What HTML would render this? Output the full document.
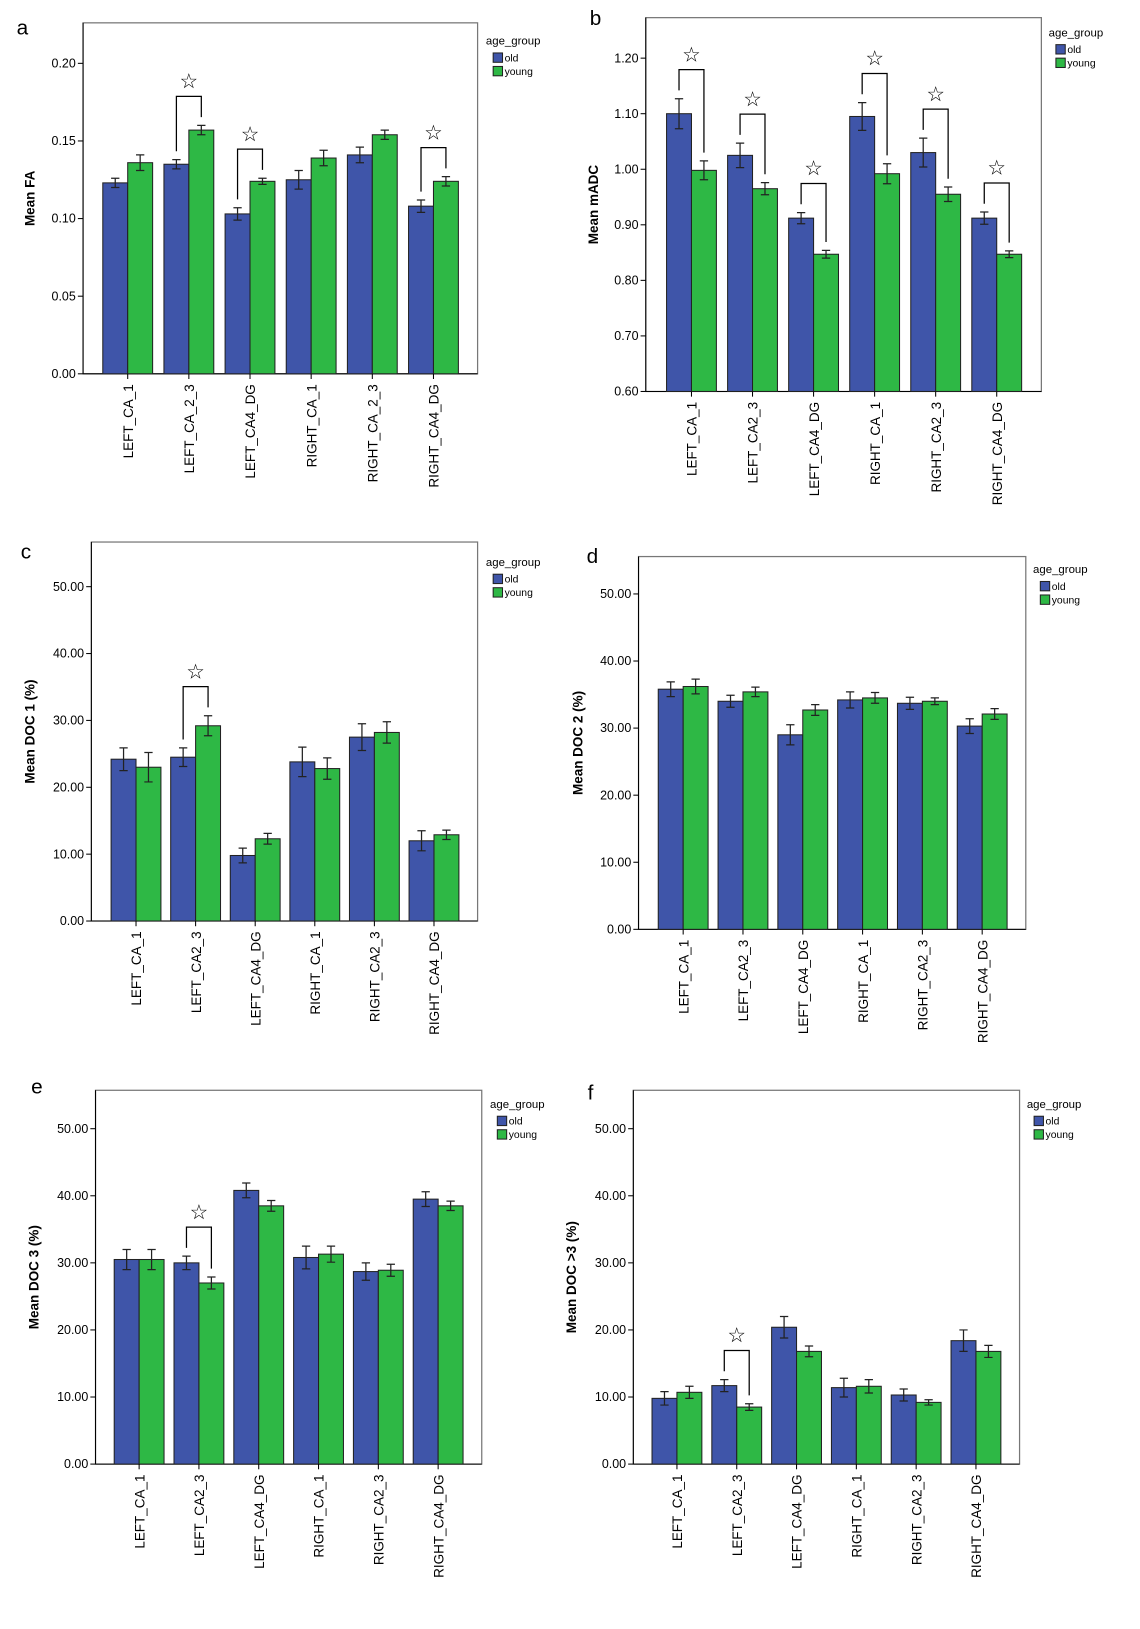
<!DOCTYPE html>
<html><head><meta charset="utf-8"><style>
body{margin:0;background:#fff;}
svg text{font-family:"Liberation Sans","DejaVu Sans",sans-serif;}
</style></head><body>
<svg id="c" width="1140" height="1624" viewBox="0 0 1098 1564" preserveAspectRatio="none" xmlns="http://www.w3.org/2000/svg"></svg>
<script>
const labelsA=["LEFT_CA_1","LEFT_CA_2_3","LEFT_CA4_DG","RIGHT_CA_1","RIGHT_CA_2_3","RIGHT_CA4_DG"];
const labelsB=["LEFT_CA_1","LEFT_CA2_3","LEFT_CA4_DG","RIGHT_CA_1","RIGHT_CA2_3","RIGHT_CA4_DG"];
const faOld=[0.123,0.135,0.103,0.125,0.141,0.108];
const faYoung=[0.136,0.157,0.124,0.139,0.154,0.124];
const faErrOld=[0.003,0.003,0.004,0.006,0.005,0.004];
const faErrYoung=[0.005,0.003,0.002,0.005,0.003,0.003];
const faSig=[1,2,5];
const faTicks=[0,0.05,0.10,0.15,0.20];
const adcOld=[1.10,1.025,0.912,1.095,1.03,0.912];
const adcYoung=[0.998,0.965,0.847,0.992,0.955,0.847];
const adcErrOld=[0.027,0.022,0.01,0.025,0.026,0.011];
const adcErrYoung=[0.017,0.011,0.007,0.018,0.013,0.006];
const adcSig=[0,1,2,3,4,5];
const adcTicks=[0.60,0.70,0.80,0.90,1.00,1.10,1.20];
const doc1Old=[24.2,24.5,9.8,23.8,27.5,12.0];
const doc1Young=[23.0,29.2,12.3,22.8,28.2,12.9];
const doc1ErrOld=[1.7,1.4,1.1,2.2,2.0,1.5];
const doc1ErrYoung=[2.2,1.5,0.8,1.6,1.6,0.7];
const doc1Sig=[1];
const doc2Old=[35.8,34.0,29.0,34.2,33.7,30.3];
const doc2Young=[36.2,35.4,32.7,34.5,34.0,32.1];
const doc2ErrOld=[1.1,0.9,1.5,1.2,0.9,1.1];
const doc2ErrYoung=[1.1,0.7,0.8,0.8,0.5,0.8];
const doc2Sig=[];
const doc3Old=[30.5,30.0,40.8,30.8,28.7,39.5];
const doc3Young=[30.5,27.0,38.5,31.3,28.9,38.5];
const doc3ErrOld=[1.5,1.0,1.1,1.7,1.3,1.1];
const doc3ErrYoung=[1.5,0.9,0.8,1.2,0.9,0.7];
const doc3Sig=[1];
const doc4Old=[9.8,11.7,20.4,11.4,10.3,18.4];
const doc4Young=[10.7,8.5,16.8,11.6,9.2,16.8];
const doc4ErrOld=[1.0,0.9,1.6,1.4,0.9,1.6];
const doc4ErrYoung=[0.9,0.5,0.8,1.0,0.4,0.9];
const doc4Sig=[1];
const docTicks=[0,10,20,30,40,50];

const svg=document.getElementById('c');
const NS="http://www.w3.org/2000/svg";
function mk(tag,attrs,parent,txt){const e=document.createElementNS(NS,tag);for(const k in attrs)e.setAttribute(k,attrs[k]);if(txt!==undefined)e.textContent=txt;(parent||svg).appendChild(e);return e;}

function panel(p){
  const g=mk('g',{});
  
  
  const y=v=>p.y0+(v-p.min)/(p.max-p.min)*(p.y1-p.y0);
  const t=mk('text',{x:p.lx,y:p.ly,'font-size':20},g,p.letter);
  
  const fr=mk('rect',{x:p.left,y:p.top,width:p.right-p.left,height:p.y0-p.top,fill:'none',stroke:'#777','stroke-width':1.2},g);
  
  const ax=mk('line',{x1:p.left,y1:p.top,x2:p.left,y2:p.y0,stroke:'#000'},g);
  
  const bx=mk('line',{x1:p.left,y1:p.y0,x2:p.right,y2:p.y0,stroke:'#000'},g);
  
  p.ticks.forEach(v=>{
    mk('line',{x1:p.left-5,y1:y(v),x2:p.left,y2:y(v),stroke:'#000'},g);
    const tl=mk('text',{x:p.left-7,y:y(v)+4,'font-size':12,'text-anchor':'end'},g,v.toFixed(2));
    
  });
  const yt=mk('text',{transform:`translate(${p.tx},${(p.top+p.y0)/2}) rotate(-90)`,'font-size':13,'font-weight':'bold','text-anchor':'middle'},g,p.title);
  
  p.labels.forEach((lab,i)=>{
    const cx=p.c0+i*p.gap;
    const bo=mk('rect',{x:cx-24,y:y(p.old[i]),width:24,height:p.y0-y(p.old[i]),fill:'#3f55a9',stroke:'#222','stroke-width':1},g);
    
    const by=mk('rect',{x:cx,y:y(p.young[i]),width:24,height:p.y0-y(p.young[i]),fill:'#2eb845',stroke:'#222','stroke-width':1},g);
    
    [[cx-12,p.old[i],p.eo[i]],[cx+12,p.young[i],p.ey[i]]].forEach(([ex,v,e])=>{
      mk('path',{d:`M${ex},${y(v+e)}V${y(v-e)}M${ex-4},${y(v+e)}h8M${ex-4},${y(v-e)}h8`,stroke:'#222','stroke-width':1.2,fill:'none'},g);
    });
    mk('line',{x1:cx,y1:p.y0,x2:cx,y2:p.y0+5,stroke:'#000'},g);
    const xl=mk('text',{transform:`translate(${cx+5},${p.y0+10}) rotate(-90)`,'font-size':13,'text-anchor':'end'},g,lab);
    
    if(p.sig.includes(i)){
      const to=y(p.old[i]+p.eo[i])-8, ty=y(p.young[i]+p.ey[i])-8;
      const top=Math.min(to,ty)-20;
      const br=mk('path',{d:`M${cx-12},${to}V${top}H${cx+12}V${ty}`,stroke:'#000','stroke-width':1.2,fill:'none'},g);
      
      const st=mk('text',{x:cx,y:top-8,'font-size':20,'text-anchor':'middle'},g,'☆');
      
    }
  });
  const lg=mk('g',{},g);
  
  mk('text',{x:p.gx,y:p.gy,'font-size':11},lg,'age_group');
  [['old','#3f55a9'],['young','#2eb845']].forEach(([n,c],k)=>{
    const r=mk('rect',{x:p.gx+7,y:p.gy+8+k*13,width:9,height:9,fill:c,stroke:'#222'},lg);
    
    const lt=mk('text',{x:p.gx+18,y:p.gy+16+k*13,'font-size':10},lg,n);
    
  });
}
panel({letter:'a',lx:16,ly:33,left:80,right:460,top:22,y0:360,y1:61,min:0,max:0.20,ticks:faTicks,c0:123,gap:58.9,labels:labelsA,old:faOld,young:faYoung,eo:faErrOld,ey:faErrYoung,sig:faSig,title:'Mean FA',tx:33,gx:468,gy:43});
panel({letter:'b',lx:568,ly:24,left:622,right:1003,top:17,y0:377,y1:56,min:0.60,max:1.20,ticks:adcTicks,c0:666,gap:58.8,labels:labelsB,old:adcOld,young:adcYoung,eo:adcErrOld,ey:adcErrYoung,sig:adcSig,title:'Mean mADC',tx:576,gx:1010,gy:35});
panel({letter:'c',lx:20,ly:538,left:88,right:460,top:522,y0:887,y1:565,min:0,max:50,ticks:docTicks,c0:131,gap:57.4,labels:labelsB,old:doc1Old,young:doc1Young,eo:doc1ErrOld,ey:doc1ErrYoung,sig:doc1Sig,title:'Mean DOC 1 (%)',tx:33,gx:468,gy:545});
panel({letter:'d',lx:565,ly:542,left:615,right:988,top:536,y0:895,y1:572,min:0,max:50,ticks:docTicks,c0:658,gap:57.6,labels:labelsB,old:doc2Old,young:doc2Young,eo:doc2ErrOld,ey:doc2ErrYoung,sig:doc2Sig,title:'Mean DOC 2 (%)',tx:561,gx:995,gy:552});
panel({letter:'e',lx:30,ly:1053,left:92,right:464,top:1050,y0:1410,y1:1087,min:0,max:50,ticks:docTicks,c0:134,gap:57.6,labels:labelsB,old:doc3Old,young:doc3Young,eo:doc3ErrOld,ey:doc3ErrYoung,sig:doc3Sig,title:'Mean DOC 3 (%)',tx:37,gx:472,gy:1067});
panel({letter:'f',lx:566,ly:1059,left:610,right:982,top:1050,y0:1410,y1:1087,min:0,max:50,ticks:docTicks,c0:652,gap:57.6,labels:labelsB,old:doc4Old,young:doc4Young,eo:doc4ErrOld,ey:doc4ErrYoung,sig:doc4Sig,title:'Mean DOC >3 (%)',tx:555,gx:989,gy:1067});
</script>
</body></html>
